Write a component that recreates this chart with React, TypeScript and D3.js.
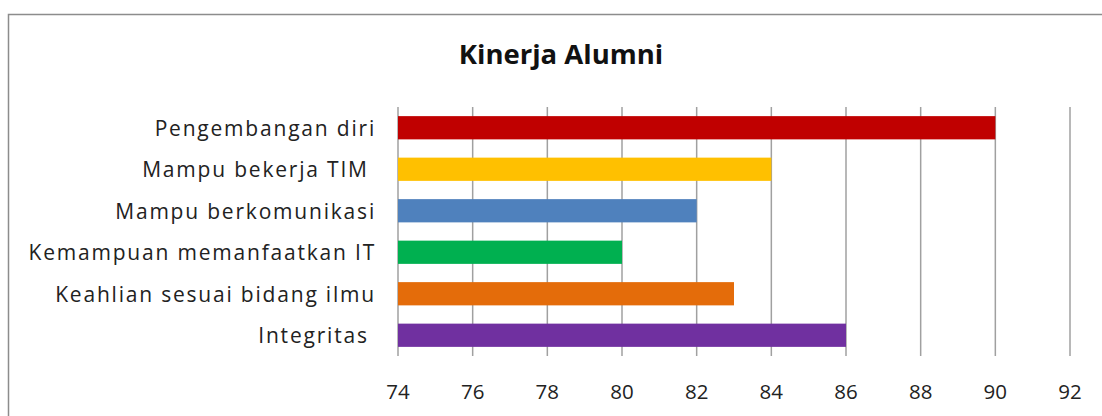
import React from 'react';
import * as d3 from 'd3';

const categories = ['Pengembangan diri', 'Mampu bekerja TIM ', 'Mampu berkomunikasi', 'Kemampuan memanfaatkan IT', 'Keahlian sesuai bidang ilmu', 'Integritas '];
const values = [90, 84, 82, 80, 83, 86];
const colors = ['#C00000', '#FFC000', '#4F81BD', '#00B050', '#E46C0A', '#7030A0'];
const ticks = [74, 76, 78, 80, 82, 84, 86, 88, 90, 92];

const W = 1102, H = 416;
const font = '"Open Sans", "Noto Sans", sans-serif';

export default function App() {
  const x = d3.scaleLinear().domain([74, 92]).range([398, 1070]);
  const y = d3.scaleBand().domain(categories).range([107, 356]).paddingInner(0.44).paddingOuter(0.22);

  return (
    <svg width={W} height={H} style={{position: 'absolute', left: 0, top: 0}}>
      <rect x={0} y={0} width={W} height={H} fill="#fff"/>
      <rect x={8.5} y={14.5} width={W + 20} height={H + 20} fill="none" stroke="#8c8c8c" strokeWidth={1.5}/>
      <text x={561} y={64} textAnchor="middle" fontFamily={font} fontSize={27.5} fontWeight="bold" fill="#111">Kinerja Alumni</text>

      {ticks.map(t => (
        <g key={t}>
          <line x1={x(t)} x2={x(t)} y1={107} y2={356} stroke="#a0a0a0" strokeWidth={1.5}/>
          <text x={x(t)} y={399} textAnchor="middle" fontFamily={font} fontSize={20.5} fill="#222">{t}</text>
        </g>
      ))}

      {categories.map((c, i) => (
        <g key={c}>
          <rect x={x(74)} y={y(c)} width={x(values[i]) - x(74)} height={y.bandwidth()} fill={colors[i]}/>
          <text x={376} y={(y(c) as number) + y.bandwidth() / 2} dy="0.38em" textAnchor="end" fontFamily={font} fontSize={21} letterSpacing={1.8} fill="#222" style={{whiteSpace: 'pre'}}>{c}</text>
        </g>
      ))}
    </svg>
  );
}
